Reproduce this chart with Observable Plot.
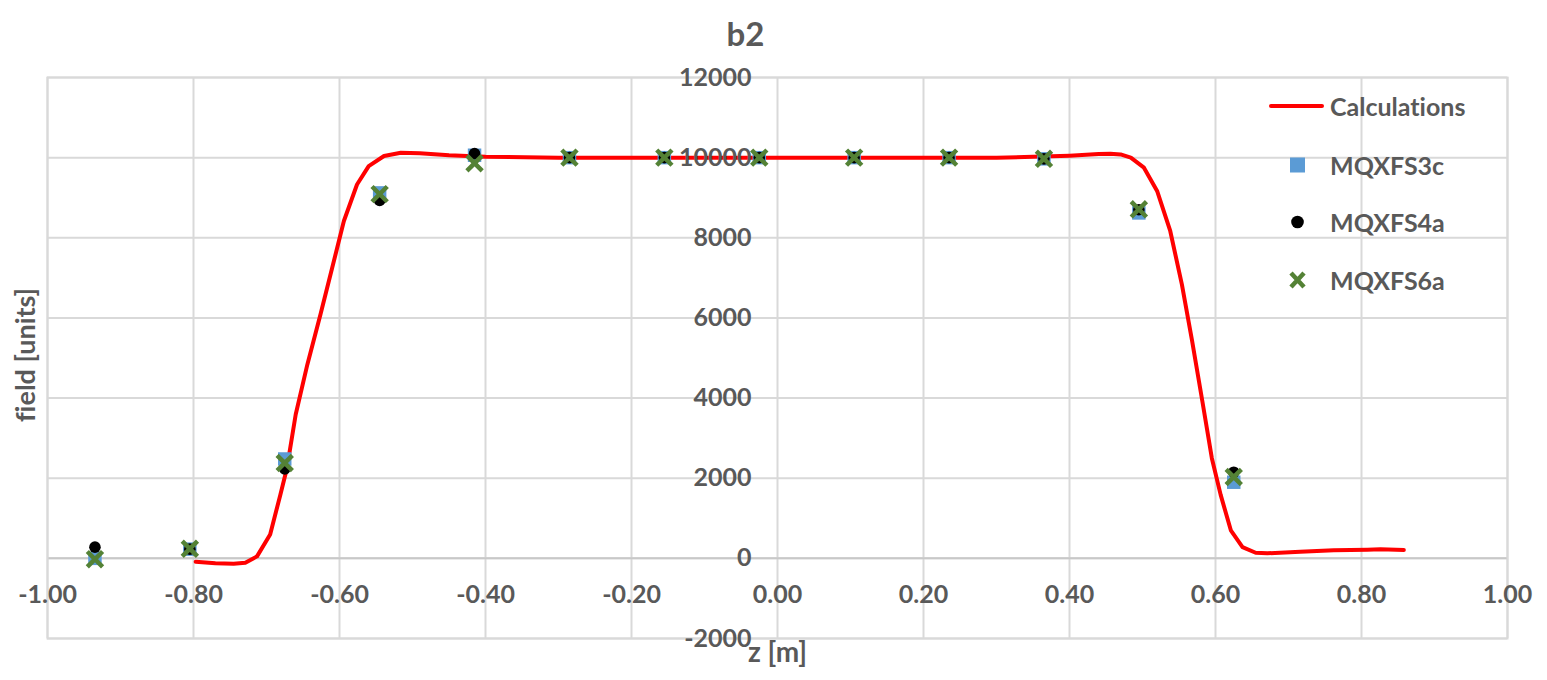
<!DOCTYPE html>
<html>
<head>
<meta charset="utf-8">
<script src="https://cdn.jsdelivr.net/npm/d3@7"></script>
<script src="https://cdn.jsdelivr.net/npm/@observablehq/plot@0.6"></script>
<style>
  html, body { margin: 0; padding: 0; background: #fff; }
  #wrap { position: relative; width: 1547px; height: 680px; font-family: Lato, "Open Sans", sans-serif; font-weight: bold; color: #595959; }
  #wrap svg text { font-variant-ligatures: none; font-feature-settings: "liga" 0; }
  #legend { position: absolute; left: 1268px; top: 88px; font-size: 25px; font-variant-ligatures: none; }
  #legend .row { position: absolute; left: 0; height: 36px; display: flex; align-items: center; white-space: nowrap; }
  #legend svg { display: block; }
</style>
</head>
<body>
<div id="wrap"></div>
<script>
// ---- data ----
const titleText = "b2";
const xLabel = "z [m]";
const yLabel = "field [units]";

const xTicks = [-1, -0.8, -0.6, -0.4, -0.2, 0, 0.2, 0.4, 0.6, 0.8, 1];
const xTickLabels = ["-1.00", "-0.80", "-0.60", "-0.40", "-0.20", "0.00", "0.20", "0.40", "0.60", "0.80", "1.00"];
const yTicks = [-2000, 0, 2000, 4000, 6000, 8000, 10000, 12000];
const yTickLabels = ["-2000", "0", "2000", "4000", "6000", "8000", "10000", "12000"];

const calcZ = [-0.797, -0.77, -0.745, -0.729, -0.713, -0.695, -0.681, -0.672, -0.660, -0.644, -0.626, -0.610, -0.594, -0.576, -0.560, -0.539, -0.516, -0.49, -0.45, -0.40, -0.30, -0.20, -0.10, 0.0, 0.10, 0.20, 0.30, 0.35, 0.40, 0.44, 0.456, 0.470, 0.484, 0.502, 0.520, 0.538, 0.554, 0.568, 0.582, 0.595, 0.607, 0.621, 0.637, 0.655, 0.671, 0.716, 0.762, 0.808, 0.826, 0.858];
const calcField = [-85, -120, -135, -110, 50, 595, 1590, 2250, 3590, 4840, 6090, 7250, 8420, 9330, 9790, 10040, 10120, 10110, 10060, 10020, 10000, 10000, 10000, 10000, 10000, 10000, 10000, 10020, 10050, 10090, 10100, 10080, 10000, 9750, 9170, 8170, 6830, 5420, 3920, 2500, 1590, 700, 280, 140, 125, 165, 200, 215, 225, 210];

const measZ = [-0.935, -0.805, -0.675, -0.545, -0.415, -0.285, -0.155, -0.025, 0.105, 0.235, 0.365, 0.495, 0.625];
const mqxfs3c = [0, 230, 2480, 9120, 10060, 10000, 10000, 10000, 10000, 10000, 9970, 8620, 1900];
const mqxfs4a = [280, 230, 2230, 8930, 10100, 10000, 10000, 10000, 10000, 10000, 9970, 8700, 2150];
const mqxfs6a = [-20, 240, 2380, 9090, 9860, 10000, 10000, 10000, 10000, 10000, 9970, 8710, 2030];

const seriesNames = ["Calculations", "MQXFS3c", "MQXFS4a", "MQXFS6a"];
const colors = {Calculations: "#ff0000", MQXFS3c: "#5b9bd5", MQXFS4a: "#000000", MQXFS6a: "#548235"};

// ---- build tables ----
const calc = calcZ.map((z, i) => ({z, v: calcField[i]}));
const pts = (arr) => measZ.map((z, i) => ({z, v: arr[i]}));
const grid = "#d9d9d9";
const txt = "#595959";

const chart = Plot.plot({
  width: 1547,
  height: 680,
  marginLeft: 47,
  marginRight: 40,
  marginTop: 77,
  marginBottom: 42,
  x: {domain: [-1, 1], axis: null},
  y: {domain: [-2000, 12000], axis: null},
  style: {fontFamily: "Lato, 'Open Sans', sans-serif", fontWeight: "bold", color: txt, background: "#fff"},
  marks: [
    Plot.ruleX(xTicks, {stroke: grid, strokeWidth: 2}),
    Plot.ruleY(yTicks, {stroke: grid, strokeWidth: 2}),
    Plot.ruleY([0], {stroke: "#c8c8c8", strokeWidth: 2}),
    Plot.frame({stroke: grid, strokeWidth: 2}),
    Plot.line(calc, {x: "z", y: "v", stroke: colors.Calculations, strokeWidth: 4, curve: "linear"}),
    Plot.dot(pts(mqxfs3c), {x: "z", y: "v", symbol: "square", r: 7.6, fill: colors.MQXFS3c, stroke: null}),
    Plot.dot(pts(mqxfs4a), {x: "z", y: "v", symbol: "circle", r: 5.8, fill: colors.MQXFS4a, stroke: null}),
    Plot.dot(pts(mqxfs6a), {x: "z", y: "v", symbol: "times", r: 7, stroke: colors.MQXFS6a, strokeWidth: 4.5, fill: "none"}),
    Plot.text(yTicks, {x: 0, y: d => d, text: (d, i) => yTickLabels[i], textAnchor: "end", dx: -26, fontSize: 25, fill: txt}),
    Plot.text(xTicks, {x: d => d, y: 0, text: (d, i) => xTickLabels[i], dy: 37, fontSize: 25, fill: txt}),
    Plot.text([titleText], {frameAnchor: "top", text: d => d, dy: -55, dx: -32, fontSize: 33, fill: txt}),
    Plot.text([xLabel], {frameAnchor: "bottom", text: d => d, textAnchor: "middle", dy: 23, fontSize: 28, fill: txt}),
    Plot.text([yLabel], {frameAnchor: "left", text: d => d, textAnchor: "middle", rotate: -90, dx: -21, dy: -3, fontSize: 27, fill: txt})
  ]
});

const wrap = document.getElementById("wrap");
wrap.appendChild(chart);

// ---- legend ----
const legend = document.createElement("div");
legend.id = "legend";
const icons = {
  Calculations: `<svg width="56" height="10"><line x1="3" y1="5" x2="54" y2="5" stroke="${colors.Calculations}" stroke-width="4" stroke-linecap="round"/></svg>`,
  MQXFS3c: `<svg width="56" height="20"><rect x="22" y="2.5" width="15" height="15" fill="${colors.MQXFS3c}"/></svg>`,
  MQXFS4a: `<svg width="56" height="20"><circle cx="29.5" cy="10" r="6.3" fill="${colors.MQXFS4a}"/></svg>`,
  MQXFS6a: `<svg width="56" height="20"><path d="M23,3L36,17M36,3L23,17" stroke="${colors.MQXFS6a}" stroke-width="4.5"/></svg>`
};
const rowTops = [0, 59, 116, 174];
seriesNames.forEach((name, i) => {
  const row = document.createElement("div");
  row.className = "row";
  row.style.top = rowTops[i] + "px";
  row.innerHTML = icons[name] + `<span style="margin-left:6px">${name}</span>`;
  legend.appendChild(row);
});
wrap.appendChild(legend);
</script>
</body>
</html>
